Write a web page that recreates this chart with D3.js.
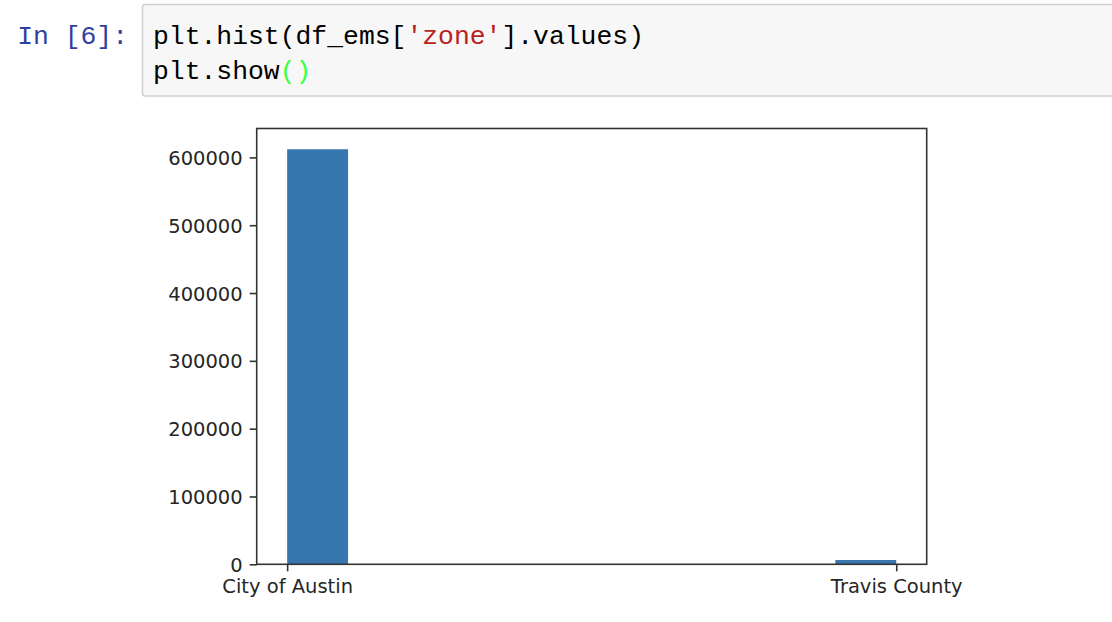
<!DOCTYPE html>
<html>
<head>
<meta charset="utf-8">
<script src="https://cdn.jsdelivr.net/npm/d3@7"></script>
<style>
  html, body { margin: 0; padding: 0; background: #fff; }
  svg { display: block; }
</style>
</head>
<body>
<svg id="chart" width="1112" height="622"></svg>
<script>
// ---- data ----
const categories = ["City of Austin", "Travis County"];
const categoryCodes = [0, 1];
const binEdges = [0, 0.1, 0.2, 0.3, 0.4, 0.5, 0.6, 0.7, 0.8, 0.9, 1.0];
const binCounts = [612000, 0, 0, 0, 0, 0, 0, 0, 0, 6300];
const yTicks = [0, 100000, 200000, 300000, 400000, 500000, 600000];
const codeLine1 = [["plt.hist(df_ems[", "#000"], ["'zone'", "#BA2121"], ["].values)", "#000"]];
const codeLine2 = [["plt.show", "#000"], ["()", "#3dff3d"]];
const promptText = "In [6]:";

const svg = d3.select("#chart");

// ---- notebook cell ----
svg.append("rect")
  .attr("x", 142.5).attr("y", 4.5).attr("width", 1000).attr("height", 91.5)
  .attr("rx", 2.5)
  .attr("fill", "#f7f7f7").attr("stroke", "#cfcfcf").attr("stroke-width", 1.5);

const codeFont = "'Liberation Mono', 'DejaVu Sans Mono', monospace";
svg.append("text")
  .attr("x", 128).attr("y", 44)
  .attr("text-anchor", "end")
  .attr("font-family", codeFont).attr("font-size", 26.4)
  .attr("fill", "#303F9F")
  .text(promptText);

function codeLine(parts, yy) {
  const t = svg.append("text").attr("x", 153).attr("y", yy)
    .attr("font-family", codeFont).attr("font-size", 26.4)
    .attr("xml:space", "preserve");
  parts.forEach(([s, c]) => t.append("tspan").attr("fill", c).text(s));
}
codeLine(codeLine1, 44);
codeLine(codeLine2, 79);

// ---- histogram ----
const axLeft = 256.7, axRight = 926.7, axTop = 128.5, axBottom = 564.3;
const x = d3.scaleLinear().domain([-0.05, 1.05]).range([axLeft, axRight]);
const yMax = d3.max(binCounts) * 1.05;
const y = d3.scaleLinear().domain([0, yMax]).range([axBottom, axTop]);

const bins = binCounts.map((c, i) => ({x0: binEdges[i], x1: binEdges[i + 1], count: c}));

svg.append("g").selectAll("rect")
  .data(bins)
  .join("rect")
  .attr("x", d => x(d.x0))
  .attr("width", d => x(d.x1) - x(d.x0))
  .attr("y", d => y(d.count))
  .attr("height", d => y(0) - y(d.count))
  .attr("fill", "#3776ae");

const tickFont = "'DejaVu Sans', sans-serif";
const fs = 19.5;

const yAxis = d3.axisLeft(y).tickValues(yTicks).tickFormat(d3.format("d"))
  .tickSize(7).tickPadding(7);
const gy = svg.append("g").attr("transform", `translate(${axLeft},0)`).call(yAxis);
gy.select(".domain").remove();
gy.selectAll("line").attr("stroke", "#333").attr("stroke-width", 1.6);
gy.selectAll("text").attr("font-family", tickFont).attr("font-size", fs).attr("fill", "#262626")
  .attr("dy", "0.36em");

const xAxis = d3.axisBottom(x).tickValues(categoryCodes).tickFormat((d, i) => categories[i])
  .tickSize(7).tickPadding(7);
const gx = svg.append("g").attr("transform", `translate(0,${axBottom})`).call(xAxis);
gx.select(".domain").remove();
gx.selectAll("line").attr("stroke", "#333").attr("stroke-width", 1.6);
gx.selectAll("text").attr("font-family", tickFont).attr("font-size", fs).attr("fill", "#262626")
  .attr("dy", "0.74em");

// frame
svg.append("rect")
  .attr("x", axLeft).attr("y", axTop)
  .attr("width", axRight - axLeft).attr("height", axBottom - axTop)
  .attr("fill", "none").attr("stroke", "#333").attr("stroke-width", 1.6);
</script>
</body>
</html>
